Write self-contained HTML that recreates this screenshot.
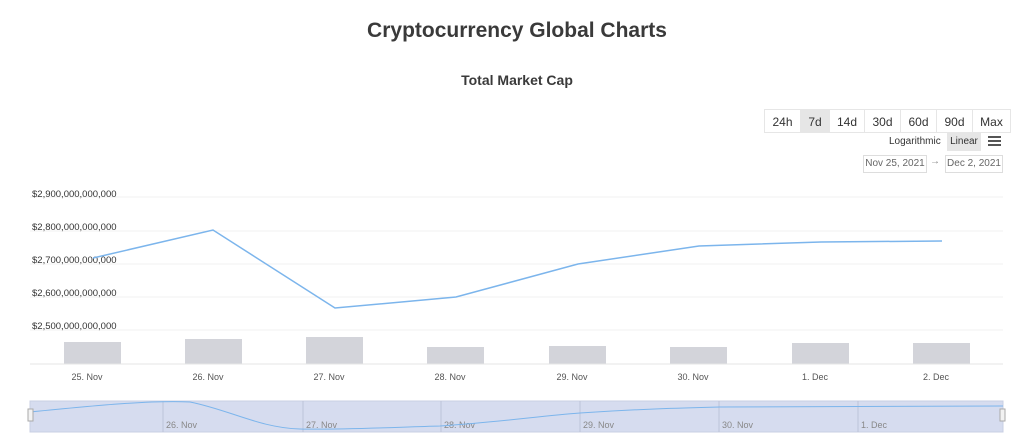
<!DOCTYPE html><html><head><style>
body{margin:0;background:#fff;font-family:"Liberation Sans",sans-serif;}
.btn{position:absolute;top:109px;height:24px;font-size:12px;color:#333;text-align:center;line-height:24px;border:1px solid #e6e6e6;box-sizing:border-box}
</style></head><body>
<div style="position:relative;width:1024px;height:443px;overflow:hidden">
<div style="position:absolute;top:19px;width:1034px;text-align:center;font-size:21px;font-weight:bold;color:#3a3a3a">Cryptocurrency Global Charts</div>
<div style="position:absolute;top:72px;width:1034px;text-align:center;font-size:14px;font-weight:bold;color:#3a3a3a">Total Market Cap</div>
<div class="btn" style="left:764px;width:37px">24h</div>
<div class="btn" style="left:800px;width:30px;background:#e6e6e6">7d</div>
<div class="btn" style="left:829px;width:36px">14d</div>
<div class="btn" style="left:864px;width:37px">30d</div>
<div class="btn" style="left:900px;width:37px">60d</div>
<div class="btn" style="left:936px;width:37px">90d</div>
<div class="btn" style="left:972px;width:39px">Max</div>
<div style="position:absolute;left:889px;top:136px;font-size:10px;color:#333">Logarithmic</div>
<div style="position:absolute;left:947px;top:133px;width:34px;height:18px;background:#e6e6e6;font-size:10px;line-height:18px;text-align:center;color:#333">Linear</div>
<div style="position:absolute;left:988px;top:136px;width:13px;height:2px;background:#555;box-shadow:0 4px #555,0 8px #555"></div>
<div style="position:absolute;left:863px;top:155px;width:62px;height:16px;border:1px solid #ddd;font-size:10px;color:#666;line-height:16px;text-align:center">Nov 25, 2021</div>
<div style="position:absolute;left:930px;top:156px;font-size:10px;color:#888">→</div>
<div style="position:absolute;left:945px;top:155px;width:56px;height:16px;border:1px solid #ddd;font-size:10px;color:#666;line-height:16px;text-align:center">Dec 2, 2021</div>
<svg width="1024" height="443" style="position:absolute;left:0;top:0" font-family="Liberation Sans,sans-serif">
<g stroke="#f2f2f2"><line x1="30" x2="1003" y1="197" y2="197"/><line x1="30" x2="1003" y1="231" y2="231"/><line x1="30" x2="1003" y1="264" y2="264"/><line x1="30" x2="1003" y1="297" y2="297"/><line x1="30" x2="1003" y1="330" y2="330"/></g>
<g font-size="9.5" fill="#333"><text x="32" y="197">$2,900,000,000,000</text><text x="32" y="230">$2,800,000,000,000</text><text x="32" y="263">$2,700,000,000,000</text><text x="32" y="296">$2,600,000,000,000</text><text x="32" y="329">$2,500,000,000,000</text></g>
<g fill="#d3d4da"><rect x="64" y="342" width="57" height="22"/><rect x="185" y="339" width="57" height="25"/><rect x="306" y="337" width="57" height="27"/><rect x="427" y="347" width="57" height="17"/><rect x="549" y="346" width="57" height="18"/><rect x="670" y="347" width="57" height="17"/><rect x="792" y="343" width="57" height="21"/><rect x="913" y="343" width="57" height="21"/></g>
<line x1="30" x2="1003" y1="364" y2="364" stroke="#e6e6e6"/>
<g font-size="9" fill="#555" text-anchor="middle"><text x="87" y="380">25. Nov</text><text x="208" y="380">26. Nov</text><text x="329" y="380">27. Nov</text><text x="450" y="380">28. Nov</text><text x="572" y="380">29. Nov</text><text x="693" y="380">30. Nov</text><text x="815" y="380">1. Dec</text><text x="936" y="380">2. Dec</text></g>
<polyline fill="none" stroke="#7cb5ec" stroke-width="1.5" points="93,258 213,230 335,308 456,297 578,264 699,246 821,242 942,241"/>
<rect x="30" y="401" width="973" height="31" fill="#d6dcef" stroke="#c8cfe3"/>
<g stroke="#bcc3d8"><line x1="163" x2="163" y1="401" y2="432"/><line x1="303" x2="303" y1="401" y2="432"/><line x1="441" x2="441" y1="401" y2="432"/><line x1="580" x2="580" y1="401" y2="432"/><line x1="719" x2="719" y1="401" y2="432"/><line x1="858" x2="858" y1="401" y2="432"/></g>
<g font-size="9" fill="#888"><text x="166" y="428">26. Nov</text><text x="306" y="428">27. Nov</text><text x="444" y="428">28. Nov</text><text x="583" y="428">29. Nov</text><text x="722" y="428">30. Nov</text><text x="861" y="428">1. Dec</text></g>
<path d="M30,412 C90,406 150,400 190,402 C230,410 260,428 300,429 C340,430 400,427 440,426 C500,422 540,416 580,413 C640,409 680,408 720,407 C800,406 900,406 1003,406" fill="none" stroke="#7cb5ec" stroke-width="1"/>
<rect x="28" y="409" width="5" height="12" fill="#f2f2f2" stroke="#aaa"/><rect x="1000" y="409" width="5" height="12" fill="#f2f2f2" stroke="#aaa"/>
</svg>
</div></body></html>
